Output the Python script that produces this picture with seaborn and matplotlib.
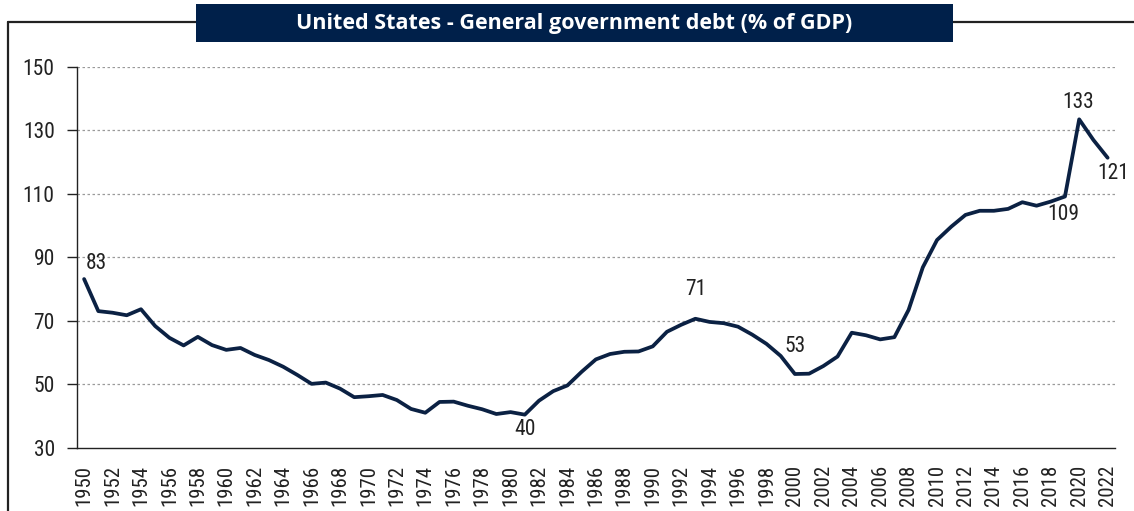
import matplotlib
matplotlib.use("Agg")
import matplotlib.pyplot as plt
from matplotlib import font_manager
import seaborn as sns
import pandas as pd
from matplotlib.patches import Rectangle
from matplotlib.lines import Line2D

years = list(range(1950, 2023))
debt = [83.2, 73.1, 72.6, 71.8, 73.7, 68.4, 64.7, 62.3, 65.0, 62.4,
        60.9, 61.5, 59.3, 57.7, 55.6, 53.0, 50.2, 50.6, 48.7, 46.0,
        46.3, 46.7, 45.1, 42.3, 41.1, 44.5, 44.6, 43.3, 42.2, 40.7,
        41.3, 40.5, 44.9, 47.9, 49.7, 54.0, 57.9, 59.6, 60.3, 60.4,
        62.0, 66.6, 68.8, 70.7, 69.7, 69.3, 68.2, 65.7, 62.8, 59.0,
        53.3, 53.4, 55.8, 58.8, 66.3, 65.5, 64.2, 64.9, 73.5, 86.9,
        95.5, 99.7, 103.4, 104.7, 104.7, 105.3, 107.4, 106.3, 107.6, 109.2,
        133.5, 127.0, 121.4]
yticks = [30, 50, 70, 90, 110, 130, 150]
xtick_years = list(range(1950, 2023, 2))
annot_years = [1950, 1981, 1993, 2000, 2019, 2020, 2022]
annot_labels = ["83", "40", "71", "53", "109", "133", "121"]
title = "United States - General government debt (% of GDP)"

navy = "#0B2143"
box = "#00204A"

sns.set_theme(style="white")
names = {f.name for f in font_manager.fontManager.ttflist}
cond = None
for cand in ["Liberation Sans Narrow", "Roboto Condensed", "Open Sans Condensed",
             "DejaVu Sans Condensed"]:
    if cand in names:
        cond = cand
        break
if cond is None:
    cond = "Liberation Sans"
plt.rcParams["font.family"] = [cond, "DejaVu Sans"]

df = pd.DataFrame({"year": years, "debt": debt})

fig = plt.figure(figsize=(11.34, 5.11), dpi=100)
ax = fig.add_axes([0.0679, 0.1233, 0.9151, 0.7457])
sns.lineplot(data=df, x="year", y="debt", ax=ax, color=navy, linewidth=2.7)

ax.set_xlim(1949.5, 2022.5)
ax.set_ylim(30, 150)
ax.set_yticks(yticks)
ax.set_yticklabels([str(v) for v in yticks], fontsize=15.5, color="#222222")
ax.set_xticks(xtick_years)
ax.set_xticklabels([str(v) for v in xtick_years], rotation=90, fontsize=15, color="#222222")
ax.set_xlabel("")
ax.set_ylabel("")
for v in yticks[1:]:
    ax.axhline(v, color="#9a9a9a", linestyle=(0, (2, 2)), linewidth=0.9, zorder=0)
ax.grid(False)
for s in ["top", "right"]:
    ax.spines[s].set_visible(False)
for s in ["left", "bottom"]:
    ax.spines[s].set_color("#222222")
    ax.spines[s].set_linewidth(1.0)
ax.tick_params(axis="y", which="major", left=True, length=7, width=1, color="#222222", pad=9)
ax.tick_params(axis="x", which="major", bottom=False, pad=6)

offsets = {1950: (1, 11, "left"), 1981: (0, -11, "center"), 1993: (0, 21, "center"),
           2000: (0, 20, "center"), 2019: (-1.5, -13, "center"), 2020: (-1, 12, "center"),
           2022: (4, -11, "center")}
for y, lab in zip(annot_years, annot_labels):
    v = debt[years.index(y)]
    dx, dy, ha = offsets[y]
    ax.annotate(lab, (y, v), xytext=(dx, dy), textcoords="offset points",
                ha=ha, va="center", fontsize=15.5, color="#222222")

# outer frame lines
fig.add_artist(Line2D([8/1134, 1.0], [1-22/511, 1-22/511], transform=fig.transFigure,
                      color="#222222", linewidth=1.6))
fig.add_artist(Line2D([8/1134, 8/1134], [0, 1-22/511], transform=fig.transFigure,
                      color="#222222", linewidth=1.6))
# title box
fig.add_artist(Rectangle((196/1134, 1-42/511), (953-196)/1134, 38/511,
                         transform=fig.transFigure, facecolor=box, edgecolor="none", zorder=5))
fig.text((196+953)/2/1134, 1-23/511, title, ha="center", va="center", color="white",
         fontsize=15.5, fontweight="bold", family=["Open Sans", "DejaVu Sans"], zorder=6)

fig.savefig("out.png", dpi=100)
